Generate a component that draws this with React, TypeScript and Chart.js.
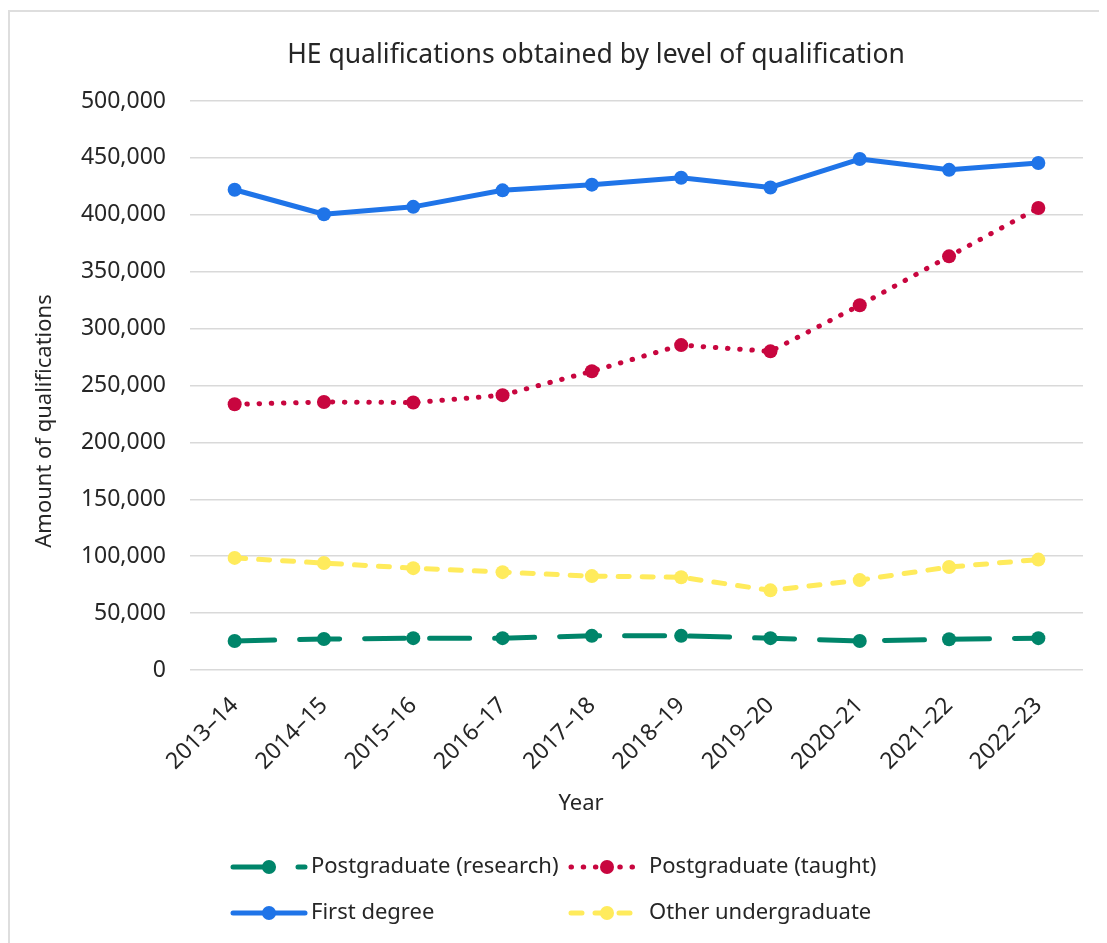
import React, { useEffect, useRef } from 'react';
import { Chart, registerables } from 'chart.js';

Chart.register(...registerables);

const years = ['2013–14', '2014–15', '2015–16', '2016–17', '2017–18', '2018–19', '2019–20', '2020–21', '2021–22', '2022–23'];
const postgradResearch = [25500, 27200, 28000, 28000, 30000, 30000, 28000, 25500, 27000, 28000];
const postgradTaught = [233500, 235500, 235000, 241500, 262500, 285500, 280000, 320500, 363500, 406000];
const firstDegree = [422000, 400500, 407000, 421500, 426500, 432500, 424000, 449000, 439500, 445500];
const otherUndergrad = [98500, 94000, 89500, 86000, 82500, 81500, 70000, 79000, 90500, 97000];

const seriesNames = ['Postgraduate (research)', 'Postgraduate (taught)', 'First degree', 'Other undergraduate'];
const chartTitle = 'HE qualifications obtained by level of qualification';
const xTitle = 'Year';
const yTitle = 'Amount of qualifications';
const yMin = 0;
const yMax = 500000;
const yStep = 50000;

const FONT = '"Noto Sans", "Open Sans", sans-serif';
const TEXT = '#262626';
const W = 1095;
const H = 931;

const legendPlugin = {
  id: 'customText',
  afterDraw(chart: any) {
    const ctx = chart.ctx as CanvasRenderingContext2D;
    ctx.save();
    ctx.fillStyle = TEXT;
    // title
    ctx.font = `26.5px ${FONT}`;
    ctx.textAlign = 'center';
    ctx.textBaseline = 'middle';
    ctx.fillText(chartTitle, 586, 43);
    // axis titles
    ctx.font = `22px ${FONT}`;
    ctx.fillText(xTitle, 571, 792);
    ctx.save();
    ctx.translate(35, 409);
    ctx.rotate(-Math.PI / 2);
    ctx.fillText(yTitle, 0, 0);
    ctx.restore();
    // legend
    const pos = [
      [223, 855],
      [561, 855],
      [223, 901],
      [561, 901],
    ];
    chart.data.datasets.forEach((ds: any, i: number) => {
      const [x, y] = pos[i];
      ctx.save();
      ctx.strokeStyle = ds.borderColor;
      ctx.lineWidth = ds.borderWidth;
      ctx.lineCap = ds.borderCapStyle || 'butt';
      ctx.setLineDash(ds.borderDash || []);
      ctx.beginPath();
      ctx.moveTo(x, y);
      ctx.lineTo(x + 72, y);
      ctx.stroke();
      ctx.setLineDash([]);
      ctx.fillStyle = ds.pointBackgroundColor;
      ctx.beginPath();
      ctx.arc(x + 36, y, ds.pointRadius, 0, Math.PI * 2);
      ctx.fill();
      ctx.restore();
      ctx.fillStyle = TEXT;
      ctx.font = `22px ${FONT}`;
      ctx.textAlign = 'left';
      ctx.textBaseline = 'middle';
      ctx.fillText(ds.label, x + 78, y);
    });
    ctx.restore();
  },
};

export default function App() {
  const ref = useRef<HTMLCanvasElement | null>(null);

  useEffect(() => {
    document.body.style.overflow = 'hidden';
    const canvas = ref.current;
    if (!canvas) return;
    const mk = (label: string, data: number[], color: string, width: number, dash: number[], cap: string) => ({
      label,
      data,
      borderColor: color,
      backgroundColor: color,
      pointBackgroundColor: color,
      pointBorderColor: color,
      pointBorderWidth: 0,
      pointRadius: 7,
      borderWidth: width,
      borderDash: dash,
      borderCapStyle: cap,
      borderJoinStyle: 'round',
      tension: 0,
      fill: false,
    });
    const chart = new Chart(canvas, {
      type: 'line',
      data: {
        labels: years,
        datasets: [
          mk(seriesNames[0], postgradResearch, '#00856A', 5, [40, 25], 'round'),
          mk(seriesNames[1], postgradTaught, '#C8063F', 5, [0.5, 11.7], 'round'),
          mk(seriesNames[2], firstDegree, '#1F74E8', 5, [], 'round'),
          mk(seriesNames[3], otherUndergrad, '#FFEB5C', 5, [11, 13], 'round'),
        ] as any,
      },
      options: {
        animation: false,
        responsive: false,
        maintainAspectRatio: false,
        layout: { padding: { left: 60, top: 89, right: 22, bottom: 0 } },
        plugins: {
          legend: { display: false },
          title: { display: false },
          tooltip: { enabled: false },
        },
        scales: {
          x: {
            offset: true,
            grid: { display: false, offset: true },
            border: { display: false },
            ticks: {
              minRotation: 45,
              maxRotation: 45,
              color: TEXT,
              font: { family: FONT, size: 23 },
              padding: 14,
            },
            afterFit: (s: any) => {
              s.height = H - 658;
            },
          },
          y: {
            min: yMin,
            max: yMax,
            ticks: {
              stepSize: yStep,
              color: TEXT,
              font: { family: FONT, size: 23 },
              padding: 24,
              callback: (v: any) => Number(v).toLocaleString('en-US'),
            },
            grid: { color: '#d9d9d9', lineWidth: 1.5, drawTicks: false },
            border: { display: false },
            afterFit: (s: any) => {
              s.width = 120;
            },
          },
        },
      } as any,
      plugins: [legendPlugin],
    });
    return () => chart.destroy();
  }, []);

  return (
    <div
      style={{
        position: 'relative',
        top: 2,
        width: W,
        height: H + 20,
        border: '2px solid #dedede',
        background: '#fff',
      }}
    >
      <canvas ref={ref} width={W} height={H} style={{ display: 'block', width: W, height: H }} />
    </div>
  );
}
